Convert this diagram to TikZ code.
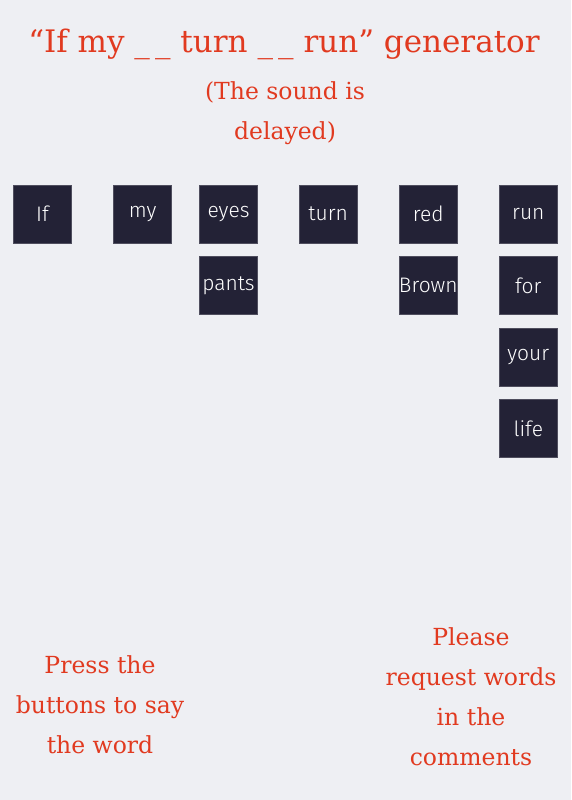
\documentclass[tikz,border=0pt]{standalone}
\usepackage{fontspec}
\setmainfont{DejaVu Serif}
\newfontfamily\handfont{Fira Sans Light}
\usepackage{tikz}
\definecolor{bgc}{HTML}{EEEFF3}
\definecolor{ink}{HTML}{E13A20}
\definecolor{btn}{HTML}{232236}
\begin{document}
\begin{tikzpicture}
  [x=1pt,y=-1pt,
   word/.style={rectangle,minimum size=58pt,inner sep=0pt,fill=btn,draw=btn!80!white,line width=.6pt,
                text=white,font=\handfont\fontsize{21}{21}\selectfont},
   say/.style={text=ink,align=center,inner sep=0pt,font=\fontsize{23.5}{40}\selectfont}]
  \fill[bgc] (0,0) rectangle (571,800);
  \useasboundingbox (0,0) rectangle (571,800);

  \node[say,font=\fontsize{31}{36}\selectfont] (title) at (284,44) {``If my \_\,\_ turn \_\,\_ run'' generator};
  \node[say] (delay) at (285,113) {(The sound is\\delayed)};

  \node[word] (if)    at (42.5,214)  {If};
  \node[word] (my)    at (142.7,214) {my};
  \node[word] (eyes)  at (228.5,214) {eyes};
  \node[word] (turn)  at (328.2,214) {turn};
  \node[word] (red)   at (428.3,214) {red};
  \node[word] (run)   at (528.3,214) {run};

  \node[word] (pants) at (228.5,285.5) {pants};
  \node[word] (brown) at (428.3,285.5) {Brown};
  \node[word] (for)   at (528.3,285.5) {for};
  \node[word] (your)  at (528.3,357)   {your};
  \node[word] (life)  at (528.3,428.5) {life};

  \node[say] (press)  at (100,705) {Press the\\buttons to say\\the word};
  \node[say] (please) at (471,697) {Please\\request words\\in the\\comments};
\end{tikzpicture}
\end{document}
